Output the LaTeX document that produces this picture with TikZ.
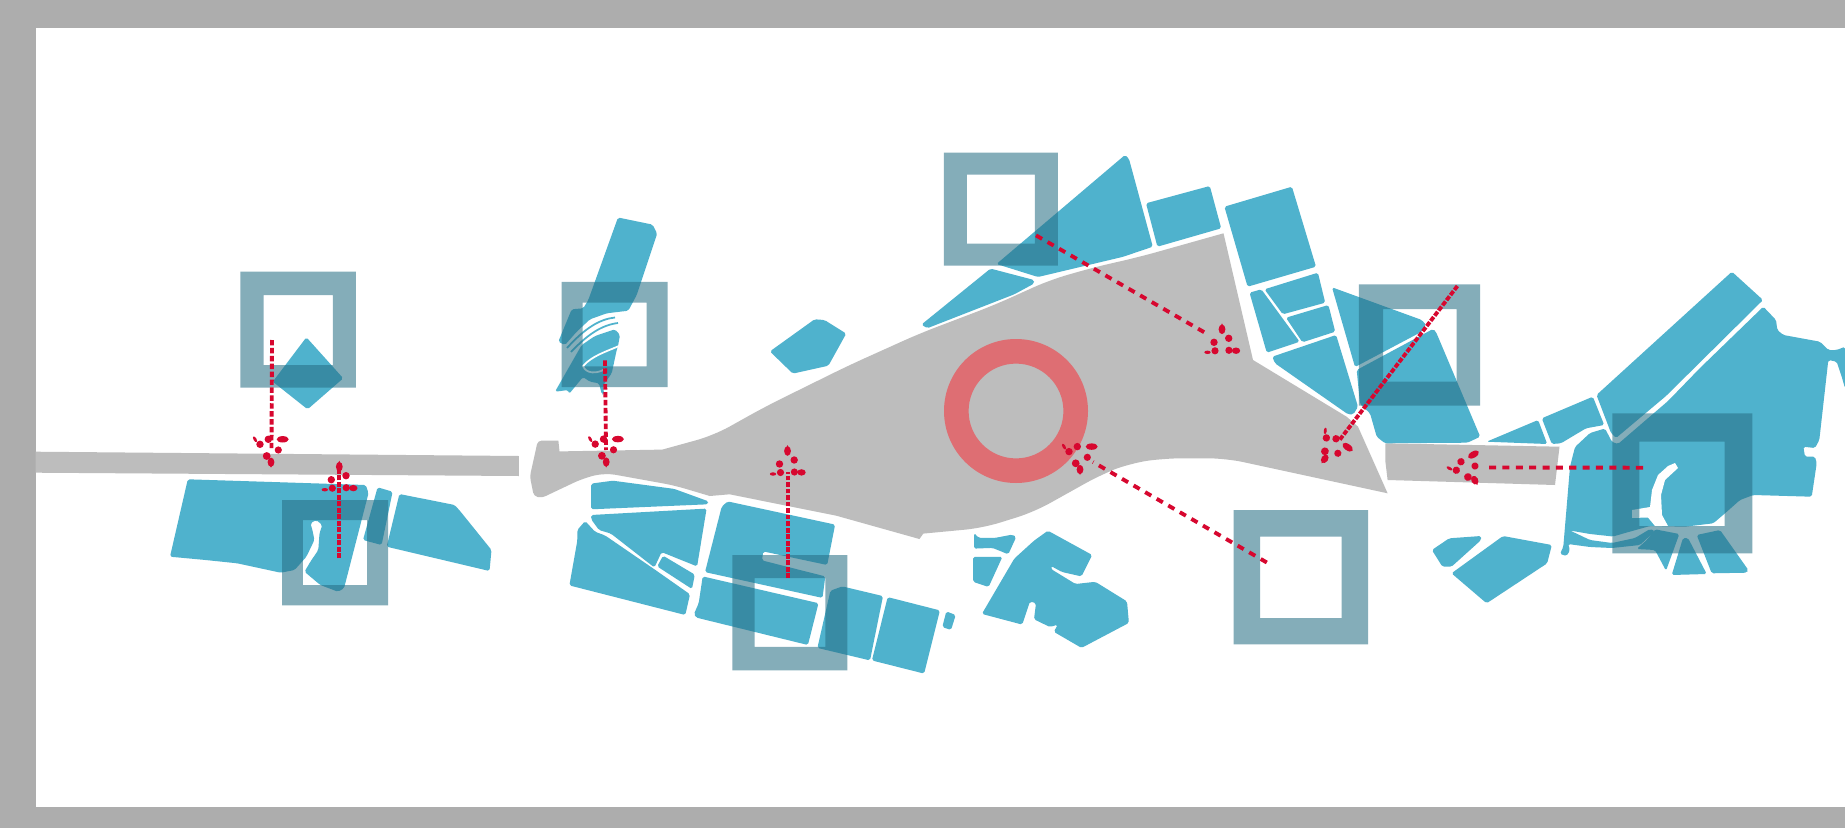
\documentclass[tikz,border=0pt]{standalone}
\usepackage{tikz}
\usetikzlibrary{calc,positioning}

\definecolor{framegray}{HTML}{ADADAD}
\definecolor{plazagray}{HTML}{BDBDBD}
\definecolor{blockteal}{HTML}{4FB2CD}
\definecolor{squareslate}{HTML}{276F85}
\definecolor{ringred}{HTML}{DE6E73}
\definecolor{flowred}{HTML}{D7072F}

\begin{document}
\begin{tikzpicture}[
    x=0.02cm, y=-0.02cm,
    plaza/.style={fill=plazagray},
    blockf/.style={fill=blockteal, rounded corners=1pt},
    gapline/.style={draw=white, line width=1pt},
    tealline/.style={draw=blockteal, line width=1pt},
    squaref/.style={fill=squareslate, fill opacity=0.57, even odd rule},
    ring/.style={fill=ringred, even odd rule},
    flow/.style={draw=flowred, line width=2.2pt, dash pattern=on 4pt off 3.6pt},
    midflow/.style={flow, dash pattern=on 3.1pt off 1.4pt},
    denseflow/.style={flow, dash pattern=on 2.8pt off 0.9pt},
    blobdown/.pic={
        \fill[flowred] (0,-5.5) ellipse[x radius=3.4, y radius=4.6];
        \fill[flowred] (-2.6,-5.5) -- (0,0) -- (2.6,-5.5) -- cycle;
        \fill[flowred] (-4.3,-11.7) circle[radius=3.9];
        \fill[flowred] (7.3,-17.7) circle[radius=3.6];
        \fill[flowred] (-11,-23.4) circle[radius=3.7];
        \fill[flowred] (-2.7,-28.4) circle[radius=3.7];
        \fill[flowred] (11.7,-28.4) ellipse[x radius=6, y radius=3.2];
        \fill[flowred, shift={(-16,-28.4)}, rotate=30] (0,0) ellipse[x radius=1.5, y radius=3.2];
    },
    blobup/.pic={
        \fill[flowred] (0,6) ellipse[x radius=3.4, y radius=4.8];
        \fill[flowred] (-2.6,6) -- (0,0) -- (2.6,6) -- cycle;
        \fill[flowred] (-8,19) circle[radius=3.7];
        \fill[flowred] (6.7,15) circle[radius=3.7];
        \fill[flowred] (-7,27.5) circle[radius=3.6];
        \fill[flowred] (6.9,27) circle[radius=3.6];
        \fill[flowred] (14,27.4) ellipse[x radius=4.2, y radius=3.2];
        \fill[flowred] (-14.5,29) ellipse[x radius=3.2, y radius=1.7];
    },
]

\useasboundingbox (0,0) rectangle (1845,828);

% Sheet and frame
\fill[framegray] (0,0) rectangle (1845,828);
\fill[white] (35.5,28) rectangle (1845,807);

% Grey street and plaza
\fill[plaza] (35.6,451.7) -- (518.8,456) -- (518.8,476) -- (35.6,472.7) -- cycle;
\fill[plaza] (537.8,440.7) -- (558.4,440.7) -- (559.5,451.4) -- (662.3,449.6)
    [rounded corners=10pt] -- (713.8,435.4)
    -- (765,406.8) -- (848.2,365.7) -- (919.4,333.6) -- (994.5,305) -- (1049.8,280)
    -- (1093.3,267.5) -- (1140,256.8) [sharp corners] -- (1223.5,233.3) -- (1253,360) -- (1346.6,416.7)
    -- (1358,426.7) -- (1387.6,493.3) [rounded corners=10pt] -- (1225.8,458.3) -- (1164.2,458.3) -- (1130,463.3)
    -- (1101,474.6) -- (1034,512) -- (982.6,528) [sharp corners] -- (923.3,533.6) -- (919.4,539)
    -- (836.3,515.7) -- (729.6,494.3) -- (709.8,496) [rounded corners=6pt] -- (674.2,485.4) -- (605,472.9)
    -- (583.3,478.2) [rounded corners=2pt] -- (541.7,497.9) -- (533.8,496) -- (529.9,476.4) -- cycle;
\fill[plaza] (1385.4,443.3) -- (1559.5,446.7) -- (1555,485) -- (1387.6,480) -- (1385.4,461.7) -- cycle;

% Red ring
\fill[ring] (1016,411) circle[radius=72] (1016,411) circle[radius=47.4];

% Diamond, far left
\fill[blockf] (306.4,337.3) -- (343.2,378.3) -- (307.6,409.3) -- (272.8,381.7) -- cycle;

% Blocks under the street
\fill[blockf] (187.8,479.3) -- (365.8,485) -- (368.5,493.3) -- (344,588.3) -- (338,591.7)
    -- (320.3,585) -- (304.5,571.7) -- (310.4,561.7) -- (318.3,550) -- (319.5,533.3)
    -- (322.3,525) -- (316.3,520) -- (310.4,523.3) -- (312.4,530) -- (314.4,540)
    -- (306.4,556.7) -- (294.6,570) -- (280.7,572.7) -- (237.2,563.3) -- (205.6,560)
    -- (170,556.7) -- cycle;
\fill[blockf] (377.6,487.3) -- (392.6,491.7) -- (381.6,545) -- (363,540) -- cycle;
\fill[blockf] (399.4,494) -- (454.7,505) -- (460.6,511.7) -- (491.5,550) -- (489.5,571)
    -- (386.7,546.7) -- cycle;

% Curved building and strip
\fill[blockf] (618,217.5) -- (652.5,224.6) -- (657.2,233.6) -- (636.7,295) -- (628.3,310.7)
    -- (606.7,313.3) -- (590,319.3) -- (576.7,331.7) -- (565,345) -- (558.3,341.7)
    -- (571.7,309.3) -- (583.3,308.3) -- (588.3,300) -- cycle;
\fill[blockf] (615,329.3) -- (620,335) -- (618,346) -- (616.7,350) -- (611.7,373.3)
    -- (603.3,385) -- (604,395) -- (601.7,394) -- (599,383.3) -- (590,381.7) -- (583,377)
    -- (569,394) -- (568.3,390) -- (555,391.7) -- (575,356.7) -- (581.7,345) -- (595,336) -- cycle;
\draw[tealline] (615,317.5) .. controls (600,319) and (585,328) .. (567,348);
\draw[tealline] (618,323) .. controls (602,325) and (588,334) .. (571,352);
\draw[gapline] (619,346) .. controls (605,352) and (592,356) .. (583,366)
    .. controls (586,374) and (597,374) .. (605,369);

% Pentagon
\fill[blockf] (814.6,319.3) -- (824.5,320) -- (846.2,333.6) -- (828.4,365.7) -- (792.8,373.6)
    -- (769.9,351.4) -- cycle;

% South row, left half
\fill[blockf] (591.2,483.6) -- (612.9,480.7) -- (674.2,488.9) -- (708.6,501.4) -- (707.8,504.3)
    -- (591.2,509.3) -- cycle;
\fill[blockf] (591.2,515) -- (706.6,508.6) -- (697.1,566.4) -- (661.6,552.1) -- (654.4,567.5)
    -- (610.9,533.6) -- (599,530) -- (591.2,519.3) -- cycle;
\fill[blockf] (585.2,521) -- (595.1,531.8) -- (605,535.4) -- (654.4,569.3) -- (690,594.3)
    -- (685.3,615) -- (569.4,585.4) -- (577.3,540.7) -- (577.3,530) -- cycle;
\fill[blockf] (663.1,555.7) -- (694.8,574.6) -- (692,589) -- (657.2,566.4) -- cycle;

% South row, right half
\fill[blockf] (727.6,501.4) -- (835.1,524.6) -- (827.2,565) -- (763.2,551.4) -- (762,560.4)
    -- (825.3,576.4) -- (822.5,597.9) -- (705,572.1) -- (721.7,506.7) -- cycle;
\fill[blockf] (702.7,576.4) -- (818.5,603.2) -- (807.9,645) -- (696,617.5) -- (694,613.9)
    -- (698.7,603.2) -- cycle;
\fill[blockf] (830.4,590.7) -- (842.3,586.4) -- (883,596.1) -- (870,660.4) -- (817.4,647.9) -- cycle;
\fill[blockf] (887.7,597.1) -- (939.9,610.4) -- (924.1,673.6) -- (871.9,660.4) -- cycle;
\fill[blockf] (946.3,611.4) -- (955.7,615) -- (951,630) -- (942.3,627) -- cycle;

% Cluster under the plaza
\fill[blockf] (974,532.9) -- (978.7,537.9) -- (994.5,538) -- (1012.3,534.6) -- (1016.2,537)
    -- (1008.3,554.3) -- (992.5,547.9) -- (974,548.6) -- cycle;
\fill[blockf] (973.1,556.8) -- (1002.4,556.8) -- (988.6,587) -- (973.1,581.8) -- cycle;
\fill[blockf] (1047.9,530.7) -- (1092.2,555) -- (1081.5,576.4) -- (1062,572) -- (1051,566)
    -- (1051,569) -- (1075.5,584) -- (1095.3,581.8) -- (1127,601.4) -- (1128.9,622.9)
    -- (1081.5,647.9) -- (1053.8,631.8) -- (1057.8,624.6) -- (1050,627) -- (1034,619.3)
    -- (1036,603.2) -- (1030,601.4) -- (1022.2,624.6) -- (981.9,613.9) -- (1014.3,558.6)
    -- (1034,540.7) -- cycle;

% North row
\fill[blockf] (1125,155) -- (1128.9,158.6) -- (1152.8,246.7) -- (1123,256.8) -- (1038,277)
    -- (996.5,264) -- cycle;
\fill[blockf] (990.5,268.6) -- (1034,280) -- (1034,283.6) -- (1014.3,294.3) -- (927.3,328.2)
    -- (921.4,324.6) -- cycle;
\fill[blockf] (1146,203.3) -- (1209.8,186) -- (1221.2,228.3) -- (1157.4,246.7) -- cycle;
\fill[blockf] (1224.4,206.7) -- (1291.9,186.7) -- (1316,266.7) -- (1247.6,286.7) -- cycle;
\fill[blockf] (1249.5,292.7) -- (1261.3,289.3) -- (1299.6,341.7) -- (1266.8,352.7) -- cycle;
\fill[blockf] (1264.5,289.3) -- (1317.9,272.7) -- (1325.2,302.7) -- (1282.8,314.3) -- cycle;
\fill[blockf] (1286,317.7) -- (1328.4,305) -- (1335.2,331.7) -- (1302.4,342.3) -- cycle;
\fill[blockf] (1272.3,356.7) -- (1336.1,335) -- (1358,406.7) -- (1353.4,414.3) -- (1348,414.3)
    -- (1275,363.3) -- cycle;

% Wedge behind the east square
\fill[blockf] (1332,287.3) -- (1421.8,320) -- (1426,325) -- (1421.7,331.7) -- (1355,367) -- cycle;
\fill[blockf] (1356.7,370) -- (1433,329) -- (1436,332) -- (1480.2,436.7) -- (1467.4,442.7) -- (1385,443.3)
    -- (1376.7,436.7) -- (1370,413.3) -- (1360,404) -- cycle;

% Far east quarter
\fill[blockf] (1486.6,441.7) -- (1538.1,420) -- (1547.2,444) -- cycle;
\fill[blockf] (1541.8,418.3) -- (1592.8,396.7) -- (1604.2,425) -- (1586,428.3) -- (1560.9,443.3)
    -- (1551.8,444) -- cycle;
\fill[blockf] (1731.9,271.7) -- (1763,300) -- (1666,396) -- (1616,438) -- (1611,433)
    -- (1596.5,395) -- cycle;
\fill[blockf] (1763.3,306.7) -- (1776,320) -- (1777.3,330) -- (1783.3,335) -- (1820,341.7)
    -- (1828.3,350) -- (1836.7,350) -- (1845,346.7) -- (1845,388.3) -- (1841.7,376.7)
    -- (1836.7,361.7) -- (1828.3,360) -- (1819.3,440) -- (1815,448) -- (1803.3,446.7)
    -- (1805,456.7) -- (1815,456.7) -- (1816.7,463.3) -- (1811.7,496.7) -- (1753.3,495)
    -- (1740,500) -- (1725,513.3) -- (1713.3,523.3) -- (1685,526.7) -- (1650,526)
    -- (1625,533) -- (1613,536.5) -- (1590,534) -- (1570,530.5) -- (1590,540) -- (1612,543)
    -- (1635,538) -- (1650,529) -- (1655,531) -- (1640,545) -- (1612,548) -- (1590,547)
    -- (1568,544) -- (1570,550) -- (1566.7,556) -- (1560,554) -- (1563.3,546.7)
    -- (1570,466.7) -- (1575,447) -- (1590,433) -- (1605,428.5) -- (1612,442) -- (1618,444)
    -- (1668,401) -- (1700,368) -- cycle;
\fill[white] (1675,463) -- (1678,468) -- (1665,480) -- (1661,495) -- (1662,515) -- (1668,526)
    -- (1655,526) -- (1648,517.5) -- (1632,518) -- (1632,510) -- (1650,507) -- (1652,490)
    -- (1658,475) -- (1668,466) -- cycle;
\fill[blockf] (1655,529.3) -- (1679.3,534) -- (1666,570.7) -- (1655,550) -- (1636.7,549)
    -- (1646.7,540) -- cycle;
\fill[blockf] (1683,538) -- (1688,538) -- (1706.7,574) -- (1671.7,575) -- cycle;
\fill[blockf] (1696.7,535) -- (1720,530) -- (1748.3,570) -- (1746.7,572.7) -- (1711.7,573.3) -- cycle;

% Pair of blocks by the harbour
\fill[blockf] (1431.9,550) -- (1449.2,538.3) -- (1481.1,536) -- (1481.1,540) -- (1451.5,566.7)
    -- (1442.4,566.7) -- cycle;
\fill[blockf] (1503,536) -- (1551.8,545) -- (1547.2,563.3) -- (1486.6,603.3) -- (1451.5,573.3) -- cycle;

% Translucent square frames
\foreach \xa/\ya/\xb/\yb/\xc/\yc/\xd/\yd in {
    240.4/271.7/355.9/387.7/263.7/295/332.9/365,
    282/500/388/605.3/302.9/520/367/585,
    561.5/281.8/667.5/387/582.5/302.5/646.5/366.4,
    732.3/555/847.4/670.4/754.5/578.2/825.3/646.8,
    943.9/152.5/1057.8/265.7/966.8/174.6/1034.8/243.6,
    1358.9/284.3/1480.2/405.7/1383/309/1456.5/381.7,
    1233.5/510/1368/644.3/1260/536.7/1341.6/618,
    1612.4/413.3/1752.4/553.3/1639.4/441.7/1724.6/526}
{
    \fill[squaref] (\xa,\ya) rectangle (\xb,\yb) (\xc,\yc) rectangle (\xd,\yd);
}

% Flow arrows: shaft ends and head tips
\coordinate (tailA) at (272,340);      \coordinate (endA) at (271.5,450);  \coordinate (tipA) at (271,467.7);
\coordinate (tailB) at (339.3,558.3);  \coordinate (endB) at (339.3,468);  \coordinate (tipB) at (339.3,460.7);
\coordinate (tailC) at (605,360.4);    \coordinate (endC) at (606,450);    \coordinate (tipC) at (606.2,467.5);
\coordinate (tailD) at (788,578);      \coordinate (endD) at (788,472);    \coordinate (tipD) at (787.5,445);
\coordinate (tailE) at (1036,235.4);   \coordinate (endE) at (1205,332.7); \coordinate (tipE) at (1222,323.3);
\coordinate (tailF) at (1266.8,562.5); \coordinate (endF) at (1093,462);   \coordinate (tipF) at (1080,475);
\coordinate (tailG) at (1457.4,286);   \coordinate (endG) at (1339,440.7); \coordinate (tipG) at (1321.5,463.3);
\coordinate (tailH) at (1643,467.7);   \coordinate (endH) at (1488,467.5); \coordinate (tipH) at (1477.5,485);

\draw[midflow] (tailA) -- (endA);
\pic at (tipA) {blobdown};
\draw[denseflow] (tailB) -- (endB);
\pic at (tipB) {blobup};
\draw[midflow] (tailC) -- (endC);
\pic at (tipC) {blobdown};
\draw[denseflow] (tailD) -- (endD);
\pic at (tipD) {blobup};
\draw[flow] (tailE) -- (endE);
\pic at (tipE) {blobup};
\draw[flow] (tailF) -- (endF);
\pic at (tipF) {blobdown};
\draw[denseflow] (tailG) -- (endG);
\pic[rotate=-36] at (tipG) {blobdown};
\draw[flow] (tailH) -- (endH);
\pic[rotate=30] at (tipH) {blobdown};

\end{tikzpicture}
\end{document}
